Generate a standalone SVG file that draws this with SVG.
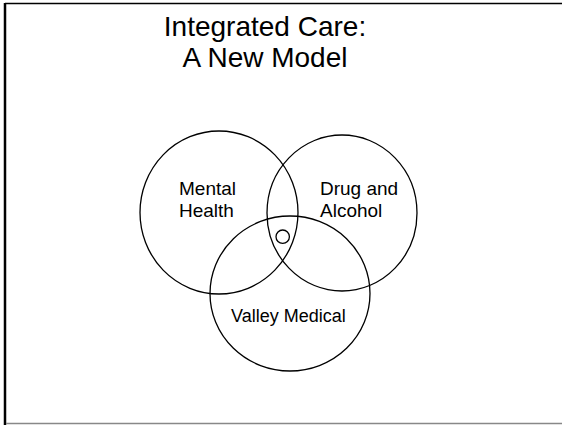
<svg xmlns="http://www.w3.org/2000/svg" width="562" height="425" viewBox="0 0 562 425">
<style>
.ring{fill:none;stroke:#000;stroke-width:1.3}
.title{font-family:"Liberation Sans",Arial,sans-serif;font-size:28px;fill:#000;text-anchor:middle}
.lbl{font-family:"Liberation Sans",Arial,sans-serif;font-size:19px;fill:#000}
</style>
<rect width="562" height="425" fill="#fff"/>
<g id="frame">
<line x1="5" y1="3.5" x2="562" y2="3.5" stroke="#000" stroke-width="1.5"/>
<line x1="5" y1="3" x2="5" y2="425" stroke="#000" stroke-width="2.5"/>
<line x1="6" y1="423.5" x2="562" y2="423.5" stroke="#888" stroke-width="1.5"/>
</g>
<g id="title">
<text class="title" x="265" y="36">Integrated Care:</text>
<text class="title" x="265" y="67">A New Model</text>
</g>
<g id="mental-health">
<ellipse class="ring" cx="219" cy="212.5" rx="79" ry="81.5"/>
<text class="lbl" x="179" y="195">Mental</text>
<text class="lbl" x="179" y="217">Health</text>
</g>
<g id="drug-alcohol">
<ellipse class="ring" cx="342" cy="213" rx="75" ry="78"/>
<text class="lbl" x="320" y="195">Drug and</text>
<text class="lbl" x="320" y="217">Alcohol</text>
</g>
<g id="valley-medical">
<ellipse class="ring" cx="290" cy="293.5" rx="80" ry="77.5"/>
<text class="lbl" x="231" y="321.5" style="font-size:18px">Valley Medical</text>
</g>
<g id="center">
<circle class="ring" cx="282.7" cy="236.7" r="6.7"/>
</g>
<g id="connectors"/>
</svg>
